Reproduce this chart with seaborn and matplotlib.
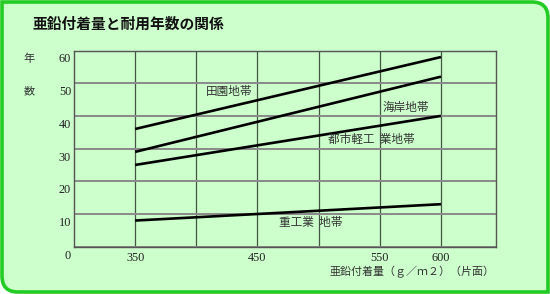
import matplotlib
matplotlib.use('Agg')
import matplotlib.pyplot as plt
import matplotlib.transforms as mtransforms
from matplotlib.path import Path
from matplotlib.patches import PathPatch
import seaborn as sns
import pandas as pd

# ---- data ----
zinc_gm2 = [350, 600]
rural = [36, 58]
coastal = [29, 52]
urban_light = [25, 40]
heavy = [8, 13]
series_names = ['田園地帯', '海岸地帯', '都市軽工業地帯', '重工業地帯']
series_labels = ['田園地帯', '海岸地帯', '都市軽工  業地帯', '重工業  地帯']
y_tick_values = [0, 10, 20, 30, 40, 50, 60]
x_tick_values = [350, 450, 550, 600]
x_minor_values = [400, 500]
title = '亜鉛付着量と耐用年数の関係'
x_title = '亜鉛付着量（ｇ／ｍ２）（片面）'
y_title = ['年', '数']

rows = []
for name, vals in zip(series_names, [rural, coastal, urban_light, heavy]):
    for x, y in zip(zinc_gm2, vals):
        rows.append({'x': x, 'y': y, 'series': name})
df = pd.DataFrame(rows)

sns.set_theme(style='white')
plt.rcParams['font.family'] = ['Noto Sans CJK JP', 'DejaVu Sans']

W, H = 550, 294
fig = plt.figure(figsize=(W / 100, H / 100), dpi=100)
fig.patch.set_facecolor('white')

# rounded border (top-right and bottom-left rounded)
def fpt(px, py):
    return (px / W, 1 - py / H)

l, t, r, b, rad = 2, 2, 548, 292, 16
verts = [fpt(l, t), fpt(r - rad, t), fpt(r, t), fpt(r, t + rad), fpt(r, b),
         fpt(l + rad, b), fpt(l, b), fpt(l, b - rad), fpt(l, t)]
codes = [Path.MOVETO, Path.LINETO, Path.CURVE3, Path.CURVE3, Path.LINETO,
         Path.LINETO, Path.CURVE3, Path.CURVE3, Path.CLOSEPOLY]
border = PathPatch(Path(verts, codes), transform=fig.transFigure,
                   facecolor='#ccffcc', edgecolor='#22cc22', lw=2.6, zorder=-5)
fig.add_artist(border)

ax = fig.add_axes([74 / W, 1 - 246.7 / H, (496 - 74) / W, (246.7 - 50.5) / H])
ax.set_facecolor('#ccffcc')

sns.lineplot(data=df, x='x', y='y', hue='series', palette=['black'] * 4,
             legend=False, linewidth=1.9, ax=ax, zorder=3)
for line in ax.get_lines():
    line.set_solid_capstyle('butt')

ax.set_xlim(300, 645)
ax.set_ylim(0, 60)
ax.set_xlabel('')
ax.set_ylabel('')

ax.set_xticks(x_tick_values)
ax.set_xticks(x_minor_values, minor=True)
ax.set_xticklabels([str(v) for v in x_tick_values], fontfamily='Liberation Serif',
                   fontsize=8.8, color='#222222')
ax.set_yticks(y_tick_values)
ax.set_yticklabels([])
ax.tick_params(axis='both', which='both', length=0)
ax.tick_params(axis='x', pad=3.5)

ax.grid(axis='y', color='#8a8a8a', lw=1.4)
ax.grid(axis='x', which='both', color='#445544', lw=0.9)
ax.set_axisbelow(True)
for s in ax.spines.values():
    s.set_color('#555555')
    s.set_linewidth(1.0)

# y tick labels offset below gridlines
ytrans = mtransforms.blended_transform_factory(ax.transAxes, ax.transData) + \
    mtransforms.ScaledTranslation(-3 / 100, -9 / 100, fig.dpi_scale_trans)
for v in y_tick_values:
    ax.text(0, v, str(v), transform=ytrans, ha='right', va='center',
            fontfamily='Liberation Serif', fontsize=8.8, color='#222222')

# series labels
label_pos = [(408, 47.4), (552, 42.5), (508, 32.7), (468, 7.3)]
for lab, (x, y) in zip(series_labels, label_pos):
    ax.text(x, y, lab, ha='left', va='center', fontsize=8.4, color='#333333')

fig.text(32 / W, 1 - 24 / H, title, ha='left', va='center', fontsize=10.6,
         fontweight='bold', color='#111111')
fig.text(29 / W, 1 - 59 / H, y_title[0], ha='center', va='center', fontsize=8, color='#333333')
fig.text(29 / W, 1 - 91 / H, y_title[1], ha='center', va='center', fontsize=8, color='#333333')
fig.text(329 / W, 1 - 272 / H, x_title, ha='left', va='center', fontsize=7.9, color='#333333')

fig.savefig('out.png', dpi=100, facecolor='white')
